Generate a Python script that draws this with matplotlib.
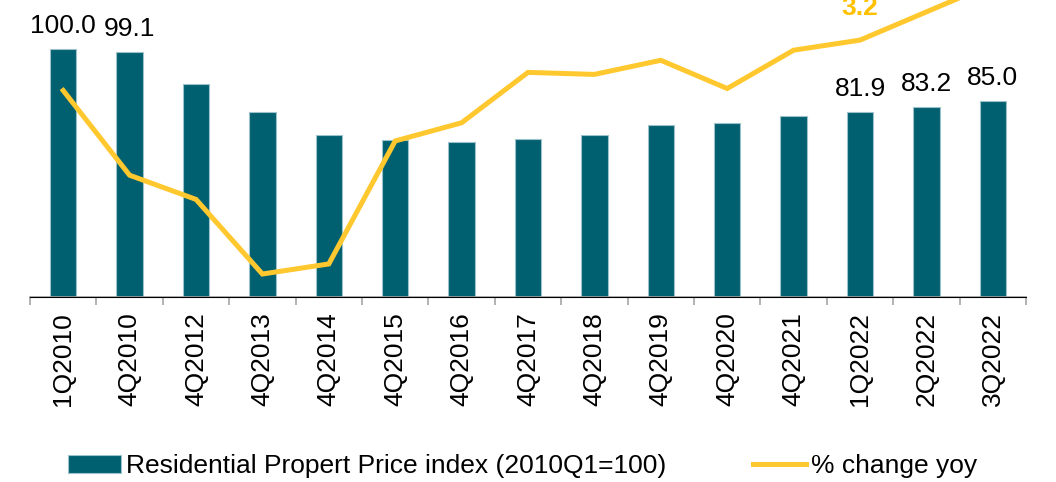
import numpy as np
import matplotlib
matplotlib.use("Agg")
import matplotlib.pyplot as plt

plt.rcParams['font.family'] = ['Liberation Sans', 'DejaVu Sans']

quarters = ['1Q2010', '4Q2010', '4Q2012', '4Q2013', '4Q2014', '4Q2015', '4Q2016',
            '4Q2017', '4Q2018', '4Q2019', '4Q2020', '4Q2021', '1Q2022', '2Q2022', '3Q2022']
price_index = [100.0, 99.1, 89.8, 81.9, 75.3, 73.8, 73.2, 74.2, 75.3, 78.0, 78.6, 80.7, 81.9, 83.2, 85.0]
yoy_change = [0.7, -3.5, -4.7, -8.4, -7.9, -1.8, -0.9, 1.6, 1.5, 2.2, 0.8, 2.7, 3.2, 4.6, 6.0]

# which bars / line points get a value label
bar_labels = [0, 1, 12, 13, 14]
line_labels = [12]

bar_color = '#01606F'
line_color = '#FFC82E'
fs = 19

fig = plt.figure(figsize=(10.56, 4.82), dpi=100)
ax = fig.add_axes([30 / 1056, 1 - 297 / 482, 996 / 1056, 297 / 482])
ax2 = ax.twinx()

x = np.arange(len(quarters))
ax.bar(x, price_index, width=0.4, color=bar_color, edgecolor='#9CC3CB', linewidth=0.8, zorder=2,
       label='Residential Propert Price index (2010Q1=100)')
ax2.plot(x, yoy_change, color=line_color, linewidth=3.6, solid_joinstyle='miter',
         label='% change yoy', zorder=3)

ax.set_xlim(-0.5, len(quarters) - 0.5)
ax.set_ylim(28.8, 113.9)
ax2.set_ylim(-9.54, 5.19)

for i in bar_labels:
    ax.annotate(f'{price_index[i]:.1f}', (x[i], price_index[i]), xytext=(0, 16),
                textcoords='offset pixels', ha='center', va='baseline', fontsize=fs,
                color='black', annotation_clip=False)
for i in line_labels:
    ax2.annotate(f'{yoy_change[i]:.1f}', (x[i], yoy_change[i]), xytext=(0, 25),
                 textcoords='offset pixels', ha='center', va='baseline', fontsize=fs,
                 fontweight='bold', color='#FFC000', annotation_clip=False)

for a in (ax, ax2):
    for s in ['left', 'right', 'top']:
        a.spines[s].set_visible(False)
    a.set_yticks([])
ax.spines['bottom'].set_color('#A6A6A6')
ax.spines['bottom'].set_linewidth(1.2)

ax.set_xticks(x)
ax.set_xticklabels(quarters, rotation=90, fontsize=fs)
ax.set_xticks(np.arange(-0.5, len(quarters)), minor=True)
ax.tick_params(axis='x', which='major', length=0, pad=11)
ax.tick_params(axis='x', which='minor', length=6, width=1.2, color='#A6A6A6')

h1, l1 = ax.get_legend_handles_labels()
h2, l2 = ax2.get_legend_handles_labels()
fig.legend(h1 + h2, l1 + l2, loc='center left', bbox_to_anchor=(68 / 1056, 16 / 482), ncol=2,
           frameon=False, fontsize=fs, handlelength=2.0, handleheight=0.7,
           handletextpad=0.2, columnspacing=3.3, borderaxespad=0, borderpad=0)

fig.savefig('out.png', dpi=100)
